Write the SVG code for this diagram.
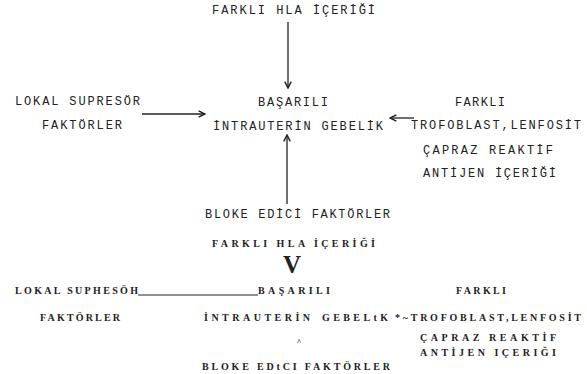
<svg xmlns="http://www.w3.org/2000/svg" width="587" height="374" viewBox="0 0 587 374">
<style>
.tw{font-family:"Liberation Mono","DejaVu Sans Mono",monospace;font-size:12px;fill:#222}
.ocr{font-family:"Liberation Serif","DejaVu Serif",serif;font-size:10px;font-weight:bold;fill:#222}
.ln{stroke:#222;stroke-width:1.3;fill:none}
</style>
<defs>
<marker id="ah" viewBox="0 0 10 10" refX="9" refY="5" markerWidth="8" markerHeight="8" orient="auto" markerUnits="userSpaceOnUse">
<path d="M1,1 L9,5 L1,9" fill="none" stroke="#222" stroke-width="1.8"/>
</marker>
</defs>
<rect width="587" height="374" fill="#fff"/>
<g id="n-hla"><text class="tw" x="212" y="14" textLength="163" lengthAdjust="spacing">FARKLI HLA İÇERİĞİ</text></g>
<g id="n-lokal"><text class="tw" x="15" y="105" textLength="125" lengthAdjust="spacing">LOKAL SUPRESÖR</text><text class="tw" x="42" y="129" textLength="80" lengthAdjust="spacing">FAKTÖRLER</text></g>
<g id="n-center"><text class="tw" x="258" y="106" textLength="70" lengthAdjust="spacing">BAŞARILI</text><text class="tw" x="213" y="130" textLength="170" lengthAdjust="spacing">İNTRAUTERİN GEBELİK</text></g>
<g id="n-right"><text class="tw" x="455" y="106" textLength="50" lengthAdjust="spacing">FARKLI</text><text class="tw" x="411" y="129" textLength="170" lengthAdjust="spacing">TROFOBLAST,LENFOSİT</text><text class="tw" x="423" y="154" textLength="130" lengthAdjust="spacing">ÇAPRAZ REAKTİF</text><text class="tw" x="423" y="177" textLength="133" lengthAdjust="spacing">ANTİJEN İÇERİĞİ</text></g>
<g id="n-bloke"><text class="tw" x="205" y="218" textLength="185" lengthAdjust="spacing">BLOKE EDİCİ FAKTÖRLER</text></g>
<g id="connectors">
<line class="ln" x1="288" y1="22" x2="288" y2="88" marker-end="url(#ah)"/>
<line class="ln" x1="142" y1="114" x2="205" y2="114" marker-end="url(#ah)"/>
<line class="ln" x1="414" y1="118" x2="390" y2="118" marker-end="url(#ah)"/>
<line class="ln" x1="287" y1="204" x2="287" y2="135" marker-end="url(#ah)"/>
</g>
<g id="ocr">
<text class="ocr" x="212" y="247" textLength="163" lengthAdjust="spacing">FARKLI HLA İÇERİĞİ</text>
<text class="ocr" x="292" y="273" text-anchor="middle" style="font-size:25px">V</text>
<text class="ocr" x="15" y="294" textLength="123" lengthAdjust="spacing">LOKAL SUPHESÖH</text>
<line x1="138" y1="295" x2="258" y2="295" stroke="#222" stroke-width="1"/>
<text class="ocr" x="258" y="294" textLength="72" lengthAdjust="spacing">BAŞARILI</text>
<text class="ocr" x="456" y="294" textLength="50" lengthAdjust="spacing">FARKLI</text>
<text class="ocr" x="40" y="321" textLength="80" lengthAdjust="spacing">FAKTÖRLER</text>
<text class="ocr" x="204" y="321" textLength="106" lengthAdjust="spacing">İNTRAUTERİN</text>
<text class="ocr" x="322" y="321" textLength="66" lengthAdjust="spacing">GEBELtK</text>
<text class="ocr" x="395" y="321" textLength="186" lengthAdjust="spacing">*~TROFOBLAST,LENFOSİT</text>
<text class="ocr" x="299" y="345" text-anchor="middle" style="font-size:8px">^</text>
<text class="ocr" x="420" y="341" textLength="136" lengthAdjust="spacing">ÇAPRAZ REAKTİF</text>
<text class="ocr" x="420" y="356" textLength="136" lengthAdjust="spacing">ANTİJEN IÇERIĞI</text>
<text class="ocr" x="202" y="370" textLength="188" lengthAdjust="spacing">BLOKE EDtCI FAKTÖRLER</text>
</g>
</svg>
